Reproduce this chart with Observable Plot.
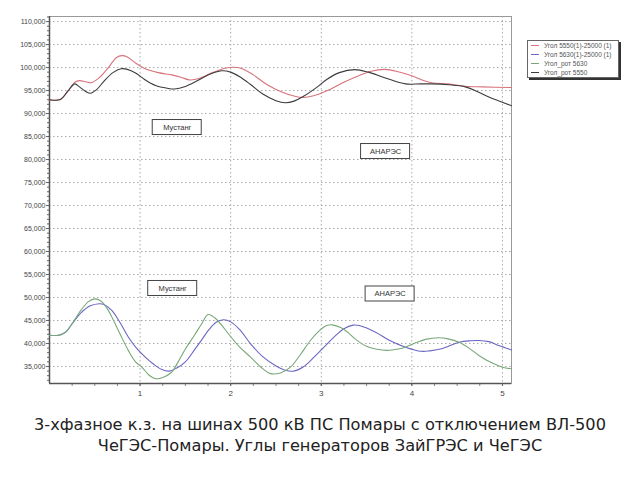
<!DOCTYPE html>
<html><head><meta charset="utf-8">
<script src="https://cdn.jsdelivr.net/npm/d3@7"></script>
<script src="https://cdn.jsdelivr.net/npm/@observablehq/plot@0.6"></script>
<style>
body{margin:0;background:#fff;}
#wrap{position:relative;width:640px;height:480px;}
#legend{position:absolute;left:527px;top:40px;width:90px;height:36px;border:1px solid #666;background:#fff;box-shadow:2px 2px 0 #333;font-family:"Liberation Sans",sans-serif;font-size:6.5px;color:#555;}
#legend .row{display:flex;align-items:center;height:9px;line-height:9px;white-space:nowrap;}
#legend .sw{width:8px;height:0;border-top:1px solid;margin:0 5px 0 3px;}
#title{position:absolute;left:0;top:414px;width:640px;text-align:center;font-family:"DejaVu Sans",sans-serif;font-size:16.2px;line-height:21px;color:#222;}
</style></head>
<body><div id="wrap"><div id="chart"></div><div id="legend"></div><div id="title"></div></div>
<script>
const titleLines = ["3-хфазное к.з. на шинах 500 кВ ПС Помары с отключением ВЛ-500", "ЧеГЭС-Помары. Углы генераторов ЗайГРЭС и ЧеГЭС"];
const seriesNames = ["Угол  5550(1)-25000 (1)", "Угол  5630(1)-25000 (1)", "Угол_рот 5630", "Угол_рот 5550"];
const seriesColors = ["#d8737b", "#6a66c4", "#78a878", "#3c3c3c"];
const xTicks = [1, 2, 3, 4, 5];
const yTicks = [35000, 40000, 45000, 50000, 55000, 60000, 65000, 70000, 75000, 80000, 85000, 90000, 95000, 100000, 105000, 110000];

// Угол 5550(1)-25000 (1)
const ugol5550 = [[0,93000],[0.12,93050],[0.2,94800],[0.28,96800],[0.33,97150],[0.4,96900],[0.46,96700],[0.55,97800],[0.65,100000],[0.74,102200],[0.8,102600],[0.86,102300],[0.95,101000],[1.05,99800],[1.2,98900],[1.35,98400],[1.45,97900],[1.55,97300],[1.65,97600],[1.8,98900],[1.95,99900],[2.03,100050],[2.12,99800],[2.25,98400],[2.4,96300],[2.55,94800],[2.7,93800],[2.8,93500],[2.95,94100],[3.1,95300],[3.25,96800],[3.4,98100],[3.55,99200],[3.7,99600],[3.85,99100],[4.0,98200],[4.1,97400],[4.22,96700],[4.4,96450],[4.59,95950],[4.78,95800],[5.1,95650]];
// Угол_рот 5550
const rot5550 = [[0,93000],[0.12,93050],[0.2,94800],[0.28,96450],[0.33,95800],[0.4,94800],[0.45,94400],[0.52,95200],[0.6,97000],[0.7,98900],[0.79,99750],[0.86,99600],[0.95,98800],[1.05,97400],[1.17,96100],[1.3,95500],[1.38,95350],[1.5,95900],[1.62,97000],[1.75,98400],[1.9,99300],[2.0,99000],[2.1,98000],[2.22,96300],[2.35,94300],[2.5,92800],[2.6,92350],[2.7,92700],[2.8,93700],[2.95,95700],[3.06,97400],[3.2,98900],[3.37,99550],[3.52,99000],[3.7,97800],[3.93,96450],[4.1,96450],[4.22,96450],[4.41,96250],[4.59,95800],[4.72,94800],[4.85,93600],[5.1,91700]];
// Угол 5630(1)-25000 (1)
const ugol5630 = [[0,41800],[0.1,41800],[0.18,42500],[0.25,44300],[0.35,46700],[0.45,48200],[0.55,48650],[0.6,48500],[0.69,47170],[0.78,44500],[0.87,41400],[0.96,39000],[1.06,37000],[1.15,35500],[1.24,34350],[1.32,34000],[1.4,34600],[1.5,36000],[1.6,38600],[1.68,40800],[1.76,43000],[1.84,44600],[1.92,45150],[2.0,44700],[2.1,43000],[2.22,39930],[2.35,37200],[2.51,35000],[2.6,34200],[2.69,33980],[2.8,34900],[2.92,37020],[3.03,39200],[3.14,41370],[3.25,43200],[3.35,44000],[3.42,43900],[3.6,42450],[3.75,40700],[3.93,39200],[4.1,38300],[4.2,38400],[4.33,38840],[4.52,40280],[4.65,40600],[4.74,40650],[4.85,40400],[4.96,39570],[5.1,38600]];
// Угол_рот 5630
const rot5630 = [[0,41800],[0.1,41800],[0.18,42500],[0.25,44300],[0.35,47300],[0.43,49100],[0.5,49700],[0.57,49200],[0.63,47800],[0.69,45700],[0.78,42000],[0.87,38500],[0.95,36000],[1.02,34850],[1.1,33100],[1.17,32350],[1.25,32600],[1.35,33800],[1.42,36000],[1.5,38800],[1.6,41800],[1.68,44300],[1.75,46300],[1.83,45500],[1.9,44000],[1.99,41740],[2.1,39200],[2.22,37020],[2.35,34600],[2.44,33450],[2.55,33600],[2.66,34850],[2.77,37600],[2.88,40650],[2.98,42800],[3.06,43900],[3.12,44050],[3.22,43400],[3.3,42300],[3.38,40900],[3.5,39400],[3.6,38800],[3.73,38500],[3.85,38800],[3.93,39200],[4.05,40200],[4.15,40900],[4.3,41250],[4.4,41000],[4.52,40280],[4.63,39000],[4.74,37400],[4.87,35900],[5.0,34850],[5.1,34500]];

const annLabels = ["Мустанг", "АНАРЭС", "Мустанг", "АНАРЭС"];
const annT = [1.41, 3.71, 1.36, 3.76];
const annV = [86960, 81740, 51960, 50760];

const seriesData = [ugol5550, ugol5630, rot5630, rot5550];
const rows = [];
seriesData.forEach((arr, i) => arr.forEach(([t, v]) => rows.push({t, v, s: seriesNames[i]})));
const ann = annLabels.map((label, i) => ({label, t: annT[i], v: annV[i]}));

const yMin = 31300, yMax = 111100, xMax = 5.1;
const chart = Plot.plot({
  width: 640, height: 405,
  marginLeft: 49, marginRight: 129, marginTop: 16, marginBottom: 22,
  style: {fontFamily: "Liberation Sans, sans-serif", background: "#fff"},
  x: {domain: [0, xMax], label: null},
  y: {domain: [yMin, yMax], label: null},
  color: {domain: seriesNames, range: seriesColors},
  marks: [
    Plot.gridY(yTicks, {stroke: "#aaa", strokeOpacity: 1, strokeDasharray: "1.5,2.5"}),
    Plot.gridX(xTicks, {stroke: "#aaa", strokeOpacity: 1, strokeDasharray: "1.5,2.5"}),
    Plot.frame({stroke: "#999"}),
    Plot.axisY(d3.range(32000, 111001, 1000), {tickSize: 2, text: null, stroke: "#666", label: null}),
    Plot.axisY(yTicks, {tickSize: 3, tickPadding: 1, tickFormat: d3.format(","), fontSize: 7, fill: "#444", stroke: "#666", label: null}),
    Plot.axisX(d3.range(0.25, 5.1, 0.25), {tickSize: 3, text: null, stroke: "#888", label: null}),
    Plot.axisX(xTicks, {tickSize: 3, tickPadding: 4, fontSize: 8, fill: "#444", stroke: "#666", label: null}),
    Plot.ruleX([0], {stroke: "#555", strokeWidth: 1.5}),
    Plot.ruleY([yMin], {stroke: "#555", strokeWidth: 1.5}),
    Plot.line(rows, {x: "t", y: "v", z: "s", stroke: "s", strokeWidth: 1.1, curve: "catmull-rom"}),
    Plot.rect(ann, {x1: "t", x2: "t", y1: "v", y2: "v", insetLeft: -24.5, insetRight: -24.5, insetTop: -7.5, insetBottom: -7.5, fill: "#fff", stroke: "#444", strokeWidth: 1}),
    Plot.text(ann, {x: "t", y: "v", text: "label", fontSize: 7.5, fill: "#333"})
  ]
});
document.getElementById("chart").appendChild(chart);

const legend = d3.select("#legend");
seriesNames.forEach((name, i) => {
  const row = legend.append("div").attr("class", "row");
  row.append("div").attr("class", "sw").style("border-color", seriesColors[i]);
  row.append("span").text(name);
});
d3.select("#title").selectAll("div").data(titleLines).join("div").text(d => d);
</script></body></html>
